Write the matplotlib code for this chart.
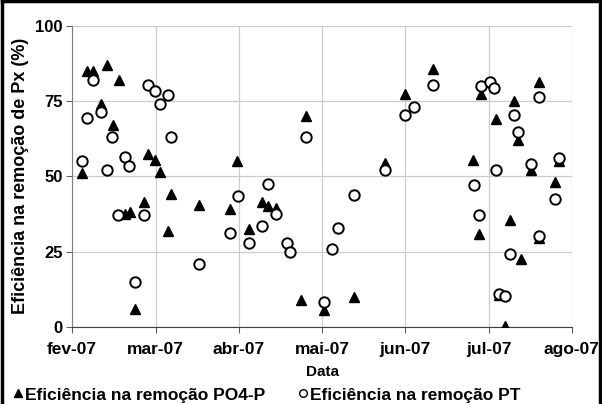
import matplotlib
matplotlib.use('Agg')
import matplotlib.pyplot as plt
from matplotlib.lines import Line2D

# dias desde 1 fev-07 (eixo com marcas a cada 30 dias)
po4_dias = [3.6, 5.4, 7.4, 10.5, 12.6, 14.7, 16.8, 18.9, 20.7, 22.5, 25.8, 27.3,
            29.7, 31.5, 34.5, 35.7, 45.6, 56.7, 59.4, 63.6, 68.4, 70.5, 73.5, 82.5,
            84.3, 90.6, 101.4, 112.8, 119.7, 129.9, 144.3, 146.7, 147.3, 151.2,
            152.7, 153.6, 156.0, 157.8, 159.3, 160.5, 161.7, 165.3, 168.0, 168.3,
            174.0, 175.5]
po4_ef = [51, 85, 85, 74, 87, 67, 82, 37.5, 38, 6, 41.5, 57.5,
          55.5, 51.5, 32, 44, 40.5, 39, 55, 32.5, 41.5, 40, 39.5, 9,
          70, 5.5, 10, 54.5, 77.5, 85.5, 55.5, 31, 77.5, 81.5,
          69, 10.6, 0.4, 35.5, 75, 62, 22.5, 52, 29.5, 81.5,
          48, 55]

pt_dias = [3.6, 5.4, 7.5, 10.5, 12.6, 14.4, 16.5, 18.9, 20.4, 22.5, 25.8, 27.3,
           29.7, 31.5, 34.5, 35.7, 45.6, 56.7, 59.7, 63.6, 68.4, 70.5, 73.5, 77.4,
           78.3, 84.3, 90.6, 93.6, 95.7, 101.4, 112.8, 119.7, 123.0, 129.9, 144.6,
           146.7, 147.3, 150.6, 151.8, 152.7, 153.6, 156.0, 157.8, 159.3, 160.5,
           165.3, 168.0, 168.3, 174.0, 175.5]
pt_ef = [55, 69.5, 82, 71.5, 52, 63, 37.2, 56.5, 53.5, 14.8, 37.2, 80.5,
         78.5, 74, 77, 63, 21, 31.3, 43.6, 28, 33.5, 47.3, 37.5, 28,
         25, 63, 8.3, 26, 32.7, 43.8, 52, 70.3, 73, 80.3, 47,
         37, 80, 81.5, 79.3, 52, 11, 10.4, 24.2, 70.3, 64.8,
         54, 30.2, 76.5, 42.5, 56]

meses = ['fev-07', 'mar-07', 'abr-07', 'mai-07', 'jun-07', 'jul-07', 'ago-07']
meses_pos = [0, 30, 60, 90, 120, 150, 180]

plt.rcParams['font.family'] = ['Liberation Sans', 'DejaVu Sans']
plt.rcParams['font.weight'] = 'bold'

fig = plt.figure(figsize=(6.02, 4.04), dpi=100)
ax = fig.add_axes([0.120, 0.191, 0.830, 0.745])

ax.plot(po4_dias, po4_ef, linestyle='none', marker='^', markersize=6.5,
        color='black', label='Eficiência na remoção PO4-P', zorder=3)
ax.plot(pt_dias, pt_ef, linestyle='none', marker='o', markersize=7.5,
        markerfacecolor='white', markeredgecolor='black', markeredgewidth=1.4,
        label='Eficiência na remoção PT', zorder=4)

ax.set_xlim(0, 180)
ax.set_ylim(0, 100)
ax.set_xticks(meses_pos)
ax.set_xticklabels(meses, fontsize=12.5, fontweight='bold')
ax.set_yticks([0, 25, 50, 75, 100])
ax.set_yticklabels(['0', '25', '50', '75', '100'], fontsize=12, fontweight='bold')
ax.grid(True, color='#cccccc', linewidth=0.9)
ax.set_axisbelow(True)
for s in ['top', 'right']:
    ax.spines[s].set_visible(False)
ax.spines['left'].set_color('#808080')
ax.spines['bottom'].set_color('#404040')
ax.tick_params(axis='both', length=4, color='#606060')
ax.tick_params(axis='x', pad=7)
ax.tick_params(axis='y', pad=3)
ax.set_xlabel('Data', fontsize=11, fontweight='bold', labelpad=6)
ax.set_ylabel('Eficiência na remoção de Px (%)', fontsize=13, fontweight='bold', labelpad=4)

handles = [Line2D([], [], linestyle='none', marker='^', markersize=5.5, color='black'),
           Line2D([], [], linestyle='none', marker='o', markersize=5.5,
                  markerfacecolor='white', markeredgecolor='black', markeredgewidth=1)]
fig.legend(handles, ['Eficiência na remoção PO4-P', 'Eficiência na remoção PT'],
           loc='lower left', bbox_to_anchor=(-0.005, -0.035), ncol=2, frameon=False,
           handlelength=0.6, handletextpad=0.1, columnspacing=1.9,
           prop={'size': 12.5, 'weight': 'bold'})

# moldura preta da imagem
for xs, ys in [([0.003, 0.003], [0, 0.997]), ([0.003, 0.997], [0.997, 0.997]),
               ([0.997, 0.997], [0, 0.997])]:
    fig.add_artist(Line2D(xs, ys, color='black', linewidth=2.5, transform=fig.transFigure))

fig.savefig('out.png', dpi=100)
